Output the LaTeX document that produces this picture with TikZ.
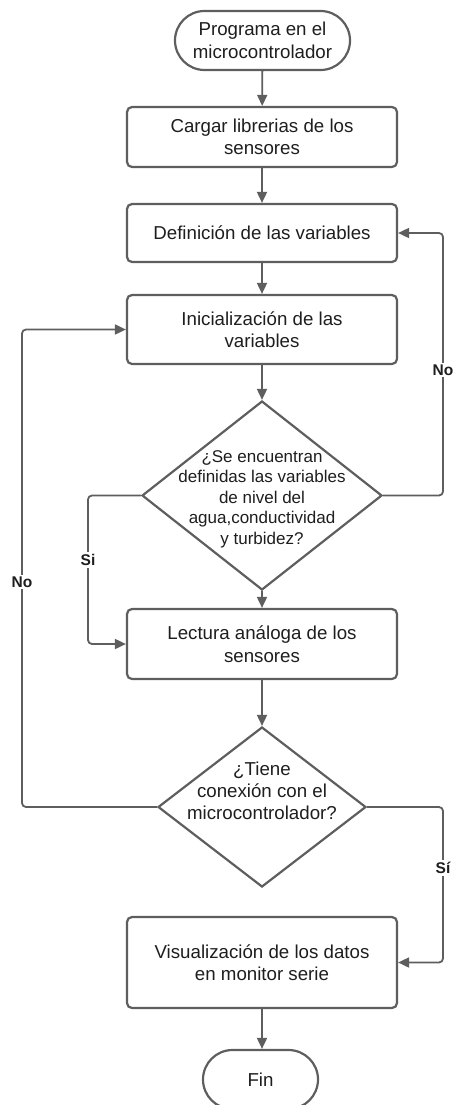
\documentclass[tikz,border=0pt]{standalone}
\usepackage{fontspec}
\setmainfont{Liberation Sans}
\usetikzlibrary{shapes.geometric,shapes.misc,arrows.meta}
\definecolor{ln}{HTML}{5E5E5E}
\definecolor{tx}{HTML}{1E1E1E}
\begin{document}
\begin{tikzpicture}[x=1pt,y=-1pt,
  txt/.style={align=center,text=tx,font=\fontsize{18.7}{22.4}\selectfont},
  box/.style={txt,draw=ln,line width=2.2pt,rounded corners=5pt,minimum width=270pt,inner sep=0pt,fill=white},
  term/.style={txt,draw=ln,line width=2.2pt,rounded rectangle,inner sep=0pt,fill=white},
  dia/.style={draw=ln,line width=2.2pt,diamond,inner sep=0pt,fill=white},
  arr/.style={draw=ln,line width=1.8pt,-{Triangle[length=11pt,width=10pt]},rounded corners=4pt},
  lab/.style={fill=white,font=\bfseries\fontsize{15.5}{18}\selectfont,text=tx,inner sep=2pt}]
\useasboundingbox (0,0) rectangle (456,1105);

\node[term,minimum width=175pt,minimum height=59pt] (start) at (262.5,40.5) {Programa en el\\microcontrolador};
\node[box,minimum height=60pt] (cargar) at (262,137) {Cargar librerias de los\\sensores};
\node[box,minimum height=58pt] (def) at (262,233) {Definición de las variables};
\node[box,minimum height=69pt] (ini) at (262,329.5) {Inicialización de las\\variables};
\node[dia,minimum width=240pt,minimum height=189pt] (d1) at (262,495.5) {};
\node[txt,font=\fontsize{17}{20.5}\selectfont] (d1t) at (262,499) {¿Se encuentran\\definidas las variables\\de nivel del\\agua,conductividad\\y turbidez?};
\node[box,minimum height=70pt] (lec) at (262,644) {Lectura análoga de los\\sensores};
\node[dia,minimum width=208pt,minimum height=160pt] (d2) at (262,807) {};
\node[txt,font=\fontsize{18.7}{22}\selectfont] (d2t) at (262,791) {¿Tiene\\conexión con el\\microcontrolador?};
\node[box,minimum height=91pt] (vis) at (262,962.5) {Visualización de los datos\\en monitor serie};
\node[term,minimum width=115pt,minimum height=59pt] (fin) at (260.5,1079.5) {Fin};

\coordinate (rx) at (443,0);
\coordinate (lx) at (88,0);
\coordinate (llx) at (22,0);

\draw[arr] (start) -- (cargar);
\draw[arr] (cargar) -- (def);
\draw[arr] (def) -- (ini);
\draw[arr] (ini) -- (d1);
\draw[arr] (d1) -- (lec);
\draw[arr] (lec) -- (d2);
\draw[arr] (vis.south) -- (vis.south |- fin.north);

\draw[arr] (d1.east) -- (d1.east -| rx) -- (def.east -| rx) -- (def.east);
\draw[arr] (d1.west) -- (d1.west -| lx) -- (lec.west -| lx) -- (lec.west);
\draw[arr] (d2.west) -- (d2.west -| llx) -- (ini.west -| llx) -- (ini.west);
\draw[arr] (d2.east) -- (d2.east -| rx) -- (vis.east -| rx) -- (vis.east);

\node[lab] (lno1) at (443,370) {No};
\node[lab] (lsi1) at (88,560) {Si};
\node[lab] (lno2) at (22,582) {No};
\node[lab] (lsi2) at (443,868) {Sí};
\end{tikzpicture}
\end{document}
